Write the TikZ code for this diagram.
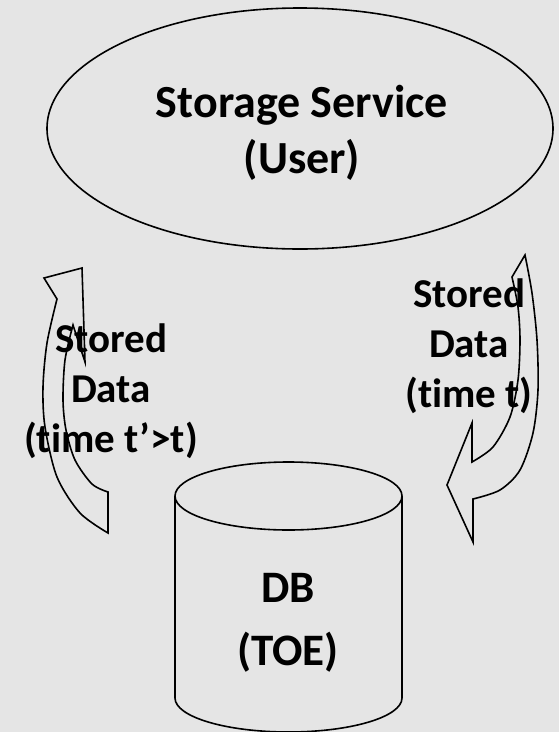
\documentclass[tikz,border=0pt]{standalone}
\usepackage{fontspec}
\setmainfont{Carlito}[Ligatures=NoCommon]
\usetikzlibrary{shapes.geometric}
\definecolor{bgcol}{RGB}{229,229,229}
\tikzset{
  outline/.style={draw=black, line width=1.6pt, line join=miter},
  titletext/.style={font=\bfseries\fontsize{46}{56}\selectfont, align=center, anchor=base, inner sep=0pt},
  labeltext/.style={font=\bfseries\fontsize{41}{50}\selectfont, align=center, anchor=base, inner sep=0pt},
  dbtext/.style={font=\bfseries\fontsize{45}{63}\selectfont, align=center, anchor=base, inner sep=0pt},
}
\begin{document}
\begin{tikzpicture}[x=1pt,y=-1pt]
\fill[bgcol] (0,0) rectangle (559,732);
\useasboundingbox (0,0) rectangle (559,732);
% ellipse: Storage Service
\node[ellipse, outline, minimum width=506pt, minimum height=241pt, inner sep=0pt] (svc) at (300,128.5) {};
\node[titletext] (svctext) at (302,173) {Storage Service\\(User)};
% cylinder: DB
\draw[outline] (175,496) -- (175,698) arc[start angle=180, end angle=0, x radius=113.5, y radius=34] -- (402,496);
\draw[outline] (288.5,496) ellipse [x radius=113.5, y radius=34];
\node[dbtext] (dbtext) at (288,665) {DB\\(TOE)};
% left curved arrow (up)
\draw[outline] (82,268) -- (44,278) -- plot[smooth] coordinates {(57,299) (47,343) (43,387) (45,427) (57,477) (80,513) (108,533)}
  -- (108,492) -- plot[smooth] coordinates {(108,492) (92,484) (75,460) (66,430) (63,400) (65,360) (73,325)}
  -- (85,362) -- cycle;
% right curved arrow (down)
\draw[outline] (525,255) -- plot[smooth] coordinates {(512,277) (518,307) (520,340) (518,380) (510,417) (493,447) (472,462)}
  -- (472,423) -- (447,485) -- (473,542) -- (473,499)
  -- plot[smooth] coordinates {(473,499) (500,490) (520,470) (533,433) (538,390) (537,340) (532,293) (525,255)} -- cycle;
% labels
\node[labeltext] (lefttext) at (111,452) {Stored\\Data\\(time t’>t)};
\node[labeltext] (righttext) at (469,407) {Stored\\Data\\(time t)};
\end{tikzpicture}
\end{document}
